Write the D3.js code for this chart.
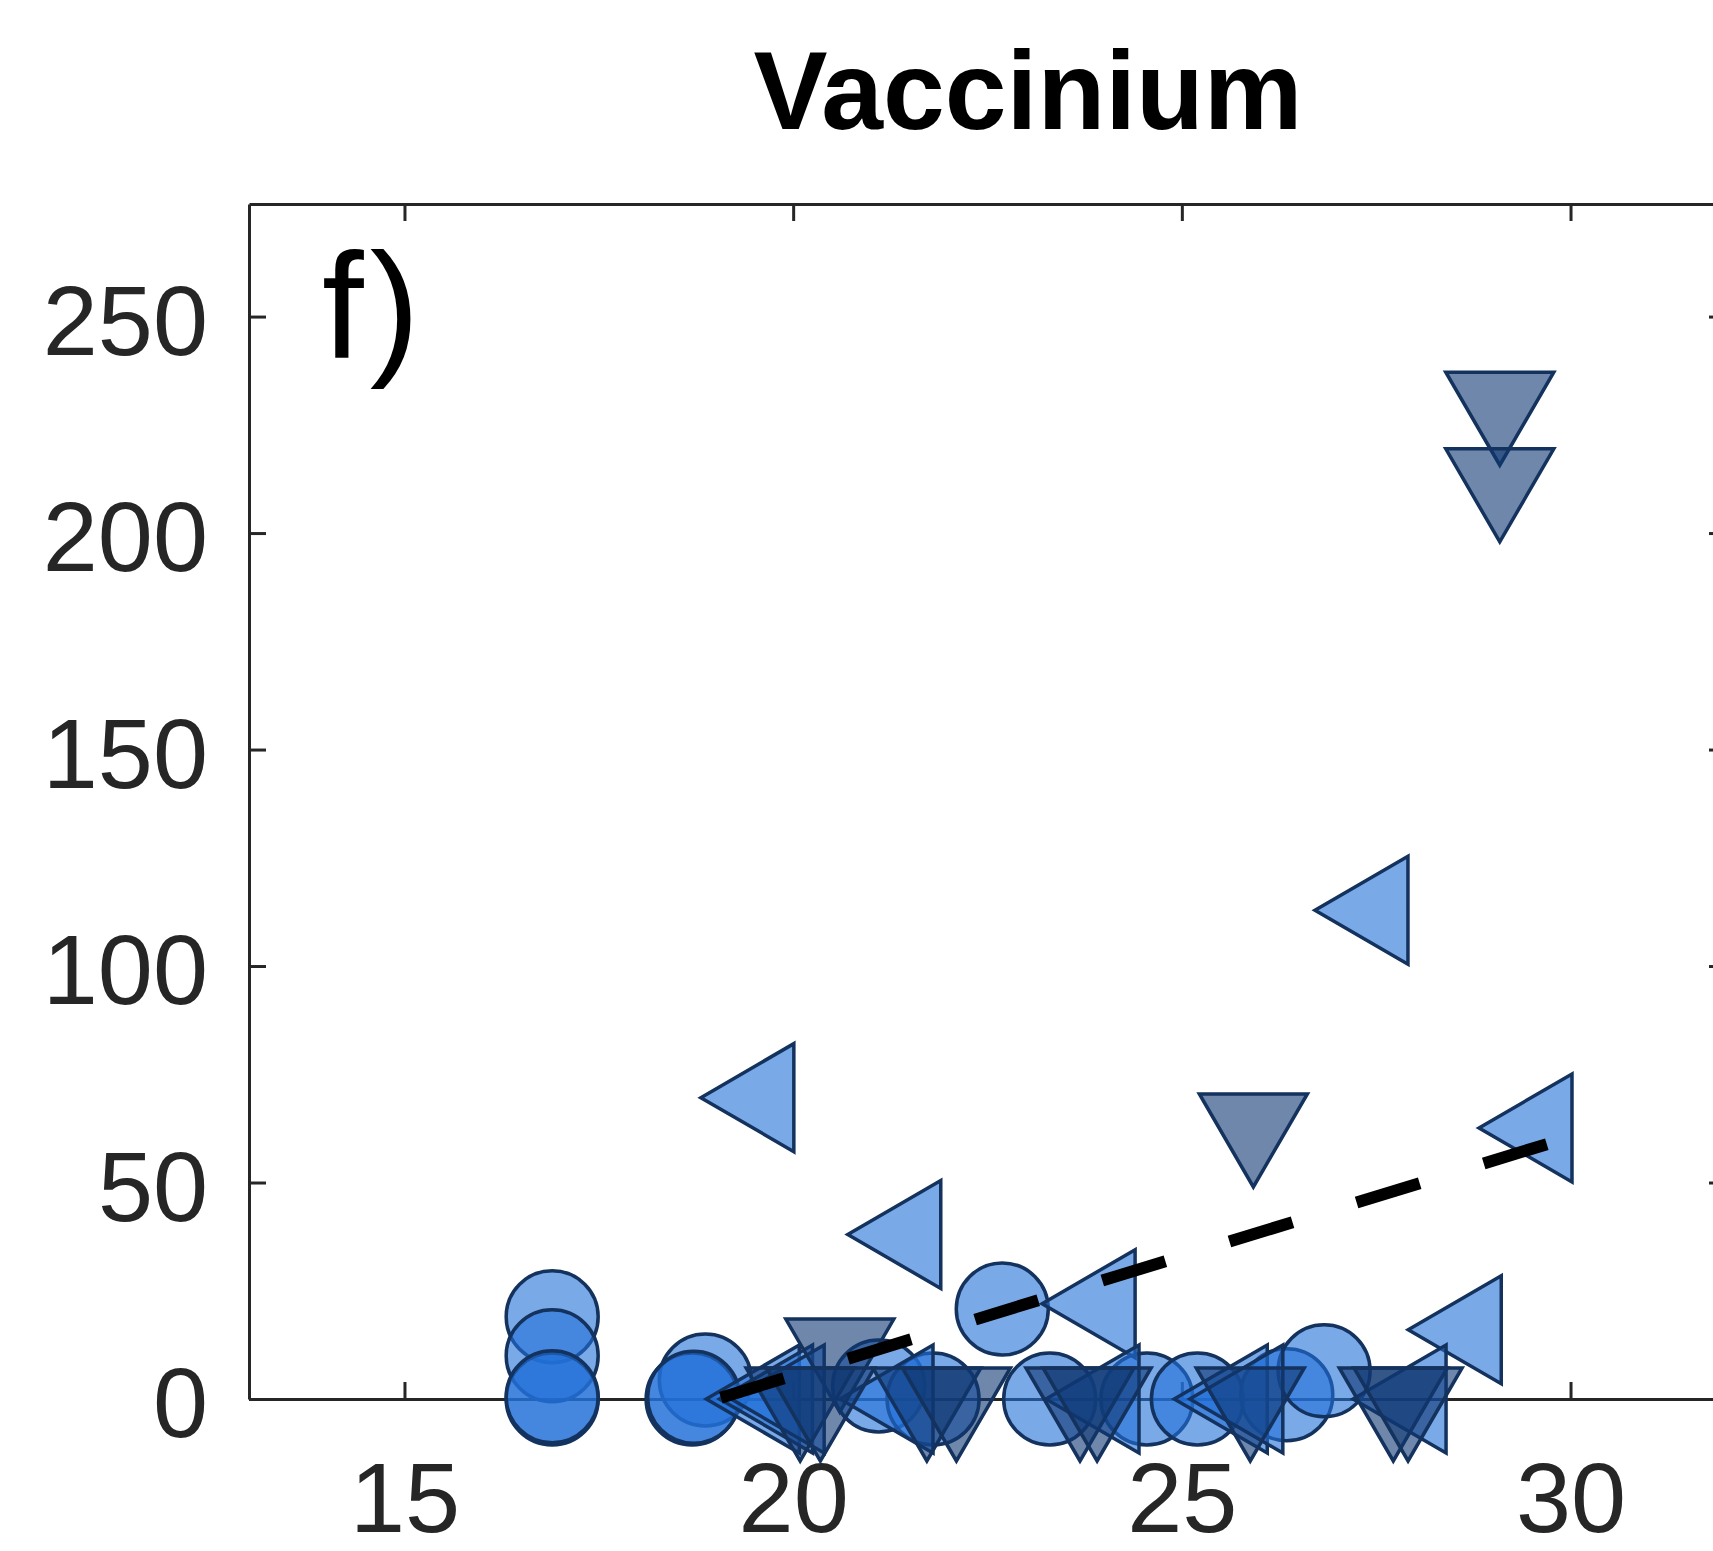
<!DOCTYPE html>
<html>
<head>
<meta charset="utf-8">
<script src="https://cdn.jsdelivr.net/npm/d3@7"></script>
<style>
  body { margin: 0; background: #fff; }
  svg { display: block; }
</style>
</head>
<body>
<svg width="1713" height="1551"></svg>
<script>
/* values */

var circleX = [16.9, 16.9, 16.9, 16.9, 18.87, 18.70, 18.72, 21.1, 21.8, 22.69, 23.3, 24.55, 25.2, 26.35, 26.83];
var circleY = [19, 10, 0, 0.5, 4.4, 0, 0.4, 3, 0, 20.8, 0, 0, 0, 1, 6.5];

var leftX = [19.61, 21.5, 27.51, 29.62, 28.71, 24.0, 19.68, 19.85, 20.0, 21.4, 24.05, 25.7, 25.9, 28.0];
var leftY = [69.6, 38.0, 112.9, 62.6, 16.0, 22.0, 0, 0, 0, 0, 0, 0, 0, 0];

var downX = [29.09, 29.09, 25.92, 20.6, 20.09, 20.35, 21.72, 22.1, 23.69, 23.91, 25.88, 27.72, 27.91];
var downY = [230, 212.3, 63.3, 11.3, 0, 0, 0, 0, 0, 0, 0, 0, 0];

var trendX = [19.07, 29.72];
var trendY = [0.3, 59];

var xTicks = [15, 20, 25, 30];
var yTicks = [0, 50, 100, 150, 200, 250];

var svg = d3.select("svg"),
    margin = {top: 204, right: -13, bottom: 152, left: 249},
    w = +svg.attr("width") - margin.left - margin.right,
    h = +svg.attr("height") - margin.top - margin.bottom;

var font = "'Liberation Sans', Arial, sans-serif";
var axisCol = "#262626";

var x = d3.scaleLinear().domain([13, 32]).range([0, w]);
var y = d3.scaleLinear().domain([0, 276]).range([h, 0]);

var g = svg.append("g").attr("transform", "translate(" + margin.left + "," + margin.top + ")");

// title and panel letter
svg.append("text")
	.attr("x", 1028).attr("y", 129)
	.attr("text-anchor", "middle")
	.attr("font-family", font).attr("font-weight", "bold").attr("font-size", 111)
	.attr("fill", "#000")
	.text("Vaccinium");

g.append("text")
	.attr("x", 73).attr("y", 154)
	.attr("font-family", font).attr("font-size", 150)
	.attr("letter-spacing", 6)
	.attr("fill", "#000")
	.text("f)");

// box axes, ticks pointing in
function styleAxis(sel) {
	sel.select(".domain").attr("stroke", axisCol).attr("stroke-width", 3);
	sel.selectAll(".tick line").attr("stroke", axisCol).attr("stroke-width", 3);
	sel.selectAll(".tick text").attr("fill", "#262626");
	sel.attr("font-family", font).attr("font-size", 99);
}

g.append("g")
	.call(d3.axisLeft(y).tickValues(yTicks).tickSize(-17).tickSizeOuter(0).tickPadding(41))
	.call(styleAxis)
	.selectAll(".tick text").attr("dy", "0.38em");

g.append("g")
	.attr("transform", "translate(0," + h + ")")
	.call(d3.axisBottom(x).tickValues(xTicks).tickSize(-17).tickSizeOuter(0).tickPadding(63))
	.call(styleAxis);

g.append("g")
	.call(d3.axisTop(x).tickValues(xTicks).tickSize(-17).tickSizeOuter(0).tickFormat(""))
	.call(styleAxis);

g.append("g")
	.attr("transform", "translate(" + w + ",0)")
	.call(d3.axisRight(y).tickValues(yTicks).tickSize(-17).tickSizeOuter(0).tickFormat(""))
	.call(styleAxis);

// markers
var edge = "#14325e";
var circleData = circleX.map(function(d, i) { return {x: d, y: circleY[i]}; });
var leftData = leftX.map(function(d, i) { return {x: d, y: leftY[i]}; });
var downData = downX.map(function(d, i) { return {x: d, y: downY[i]}; });

var r = 46;
var tH = 93, tS = 54; // triangle height, half side

// triangles are placed on their centroid
var leftPath = "M" + (-2 * tH / 3) + ",0L" + (tH / 3) + "," + (-tS) + "L" + (tH / 3) + "," + tS + "Z";
var downPath = "M" + (-tS) + "," + (-tH / 3) + "L" + tS + "," + (-tH / 3) + "L0," + (2 * tH / 3) + "Z";

g.selectAll(".circ")
	.data(circleData)
	.enter().append("circle")
	.attr("cx", function(d) { return x(d.x); })
	.attr("cy", function(d) { return y(d.y); })
	.attr("r", r)
	.attr("fill", "#2170d8").attr("fill-opacity", 0.6)
	.attr("stroke", edge).attr("stroke-width", 3.5);

g.selectAll(".left")
	.data(leftData)
	.enter().append("path")
	.attr("d", leftPath)
	.attr("transform", function(d) { return "translate(" + x(d.x) + "," + y(d.y) + ")"; })
	.attr("fill", "#2170d8").attr("fill-opacity", 0.6)
	.attr("stroke", edge).attr("stroke-width", 3.5).attr("stroke-linejoin", "miter");

g.selectAll(".down")
	.data(downData)
	.enter().append("path")
	.attr("d", downPath)
	.attr("transform", function(d) { return "translate(" + x(d.x) + "," + y(d.y) + ")"; })
	.attr("fill", "#0f3771").attr("fill-opacity", 0.6)
	.attr("stroke", edge).attr("stroke-width", 3.5).attr("stroke-linejoin", "miter");

// dashed fit
var lineFunction = d3.line()
	.x(function(d) { return x(d[0]); })
	.y(function(d) { return y(d[1]); });

g.append("path")
	.attr("d", lineFunction(d3.zip(trendX, trendY)))
	.attr("stroke", "#000")
	.attr("stroke-width", 12)
	.attr("stroke-dasharray", "66,67")
	.attr("fill", "none");
</script>
</body>
</html>
